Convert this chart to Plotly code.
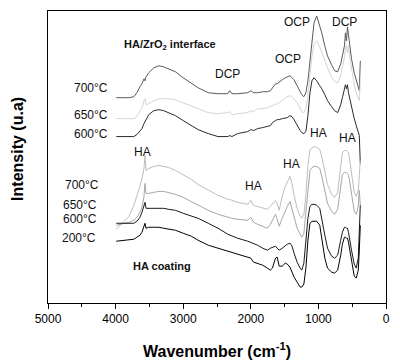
import plotly.graph_objects as go

# Wavenumber grid (cm-1)
wavenumber = [3990, 3800, 3730, 3685, 3640, 3610, 3580, 3565, 3550, 3510,
              3435, 3360, 3290, 3215, 3115, 3000, 2880, 2780, 2630, 2485,
              2340, 2310, 2280, 2195, 2045, 2000, 1960, 1900, 1825, 1755,
              1710, 1680, 1650, 1635, 1610, 1580, 1535, 1490, 1460, 1420,
              1390, 1360, 1315, 1270, 1245, 1215, 1185, 1155, 1125, 1095,
              1065, 1025, 980, 950, 905, 865, 805, 760, 715, 670,
              645, 615, 600, 585, 570, 555, 540, 510, 470, 440,
              410, 395, 380]

# HA/ZrO2 interface spectra (arbitrary units, stacked)
iface_700 = [206, 206, 207, 211, 217, 220, 225, 223, 227, 231,
             236, 238, 237, 235, 232, 226, 221, 216, 211, 210,
             210, 213, 210, 210, 211, 213, 211, 211, 212, 212,
             213, 216, 219, 220, 220, 222, 224, 226, 227, 228,
             226, 224, 218, 212, 209, 207, 211, 223, 245, 265,
             281, 288, 279, 271, 258, 248, 239, 233, 232, 240,
             248, 258, 271, 263, 277, 268, 258, 245, 231, 223,
             216, 213, 243]
iface_650 = [185, 185, 185, 187, 192, 196, 203, 205, 199, 200,
             203, 205, 205, 205, 204, 201, 198, 195, 191, 190,
             191, 192, 189, 190, 191, 193, 192, 195, 195, 196,
             197, 198, 199, 199, 200, 201, 203, 206, 207, 208,
             207, 205, 201, 195, 192, 191, 195, 208, 228, 248,
             260, 263, 257, 251, 243, 236, 227, 222, 221, 228,
             237, 246, 255, 259, 251, 258, 248, 235, 219, 211,
             205, 203, 223]
iface_600 = [167, 167, 167, 169, 172, 175, 180, 182, 185, 189,
             193, 194, 193, 191, 188, 183, 178, 174, 170, 167,
             167, 168, 167, 170, 172, 174, 173, 175, 176, 177,
             178, 181, 183, 183, 184, 184, 185, 186, 186, 188,
             187, 184, 178, 173, 171, 170, 172, 188, 211, 223,
             226, 223, 218, 215, 209, 203, 197, 193, 191, 199,
             206, 213, 219, 215, 219, 211, 206, 198, 185, 178,
             172, 168, 140]

# HA coating spectra
coat_700 = [74, 87, 98, 107, 117, 125, 135, 148, 133, 135,
            137, 138, 137, 136, 133, 129, 124, 119, 113, 108,
            104, 104, 103, 101, 99, 103, 98, 97, 95, 94,
            97, 100, 102, 103, 100, 93, 107, 117, 122, 127,
            120, 108, 95, 87, 85, 89, 108, 138, 154, 156,
            157, 156, 154, 147, 133, 119, 109, 106, 111, 138,
            151, 153, 153, 153, 152, 151, 145, 128, 111, 107,
            113, 128, 143]
coat_650 = [78, 81, 83, 86, 91, 96, 107, 120, 110, 110,
            111, 112, 112, 111, 109, 106, 102, 98, 93, 89,
            86, 86, 85, 84, 83, 86, 81, 79, 77, 75,
            79, 83, 87, 89, 84, 77, 85, 93, 97, 102,
            95, 86, 75, 69, 66, 70, 91, 117, 133, 136,
            137, 137, 135, 127, 113, 100, 92, 89, 94, 117,
            129, 131, 131, 131, 130, 128, 123, 108, 92, 89,
            97, 113, 98]
coat_600 = [80, 80, 80, 82, 86, 91, 97, 101, 95, 95,
            95, 95, 95, 94, 93, 90, 87, 85, 80, 75,
            69, 68, 67, 65, 62, 61, 60, 58, 55, 53,
            55, 56, 57, 57, 55, 53, 55, 58, 59, 60,
            57, 50, 41, 35, 33, 40, 61, 85, 97, 99,
            99, 98, 95, 83, 68, 55, 47, 45, 48, 63,
            71, 76, 76, 75, 75, 71, 66, 53, 39, 35,
            45, 68, 98]
coat_200 = [62, 63, 64, 66, 68, 71, 77, 80, 75, 76,
            76, 76, 75, 74, 73, 70, 67, 63, 58, 55,
            52, 51, 51, 49, 46, 45, 41, 40, 38, 35,
            33, 35, 41, 45, 46, 37, 37, 40, 39, 36,
            31, 26, 21, 16, 16, 19, 35, 63, 80, 82,
            82, 82, 78, 63, 45, 35, 31, 30, 33, 48,
            59, 66, 66, 65, 65, 61, 55, 41, 27, 25,
            33, 53, 78]

x_ticks = [5000, 4000, 3000, 2000, 1000, 0]
x_minor = [4500, 3500, 2500, 1500, 500]

series = [
    (iface_700, '#5a5a5a'),
    (iface_650, '#d4d4d4'),
    (iface_600, '#2a2a2a'),
    (coat_700, '#bdbdbd'),
    (coat_650, '#a6a6a6'),
    (coat_600, '#1a1a1a'),
    (coat_200, '#000000'),
]

fig = go.Figure()
for ys, col in series:
    assert len(ys) == len(wavenumber)
    fig.add_trace(go.Scatter(x=wavenumber, y=ys, mode='lines',
                             line=dict(color=col, width=1),
                             showlegend=False, hoverinfo='skip'))

FONT = 'Liberation Sans, Arial, sans-serif'
L, R, T, B = 48, 10, 10, 58
W, H = 400, 361
PW, PH = W - L - R, H - T - B


def paper(px, py):
    return (px - L) / PW, (H - B - py) / PH


def label(px, py, text, size=12, anchor='center', bold=False):
    x, y = paper(px, py)
    if bold:
        text = '<b>' + text + '</b>'
    fig.add_annotation(x=x, y=y, xref='paper', yref='paper', text=text,
                       showarrow=False, xanchor=anchor, yanchor='middle',
                       font=dict(family=FONT, size=size, color='#111111'))


label(123, 44, 'HA/ZrO<sub>2</sub> interface', size=11, anchor='left', bold=True)
label(111, 87, '700°C', anchor='right')
label(111, 114, '650°C', anchor='right')
label(111, 133, '600°C', anchor='right')
label(230, 73, 'DCP')
label(291, 58, 'OCP')
label(300, 21, 'OCP')
label(348, 21, 'DCP')
label(322, 132, 'HA')
label(351, 137, 'HA')
label(144, 151, 'HA')
label(294, 164, 'HA')
label(256, 186, 'HA')
label(102, 185, '700°C', anchor='right')
label(100, 205, '650°C', anchor='right')
label(100, 219, '600°C', anchor='right')
label(99, 238, '200°C', anchor='right')
label(132, 266, 'HA coating', size=11, anchor='left', bold=True)

# axis titles
x, y = paper(219, 350)
fig.add_annotation(x=x, y=y, xref='paper', yref='paper',
                   text='<b>Wavenumber (cm<sup>-1</sup>)</b>', showarrow=False,
                   xanchor='center', yanchor='middle',
                   font=dict(family=FONT, size=16, color='black'))
x, y = paper(17, 148)
fig.add_annotation(x=x, y=y, xref='paper', yref='paper',
                   text='<b>Intensity (u.a)</b>', showarrow=False, textangle=-90,
                   xanchor='center', yanchor='middle',
                   font=dict(family=FONT, size=16, color='black'))

fig.update_layout(width=W, height=H, margin=dict(l=L, r=R, t=T, b=B),
                  paper_bgcolor='white', plot_bgcolor='white', showlegend=False)
fig.update_xaxes(range=[5000, 0], tickvals=x_ticks,
                 ticktext=[str(v) for v in x_ticks],
                 ticks='outside', ticklen=5, tickwidth=1, tickcolor='black',
                 showline=True, linecolor='black', linewidth=1, mirror=True,
                 showgrid=False, zeroline=False,
                 tickfont=dict(family=FONT, size=12, color='black'),
                 minor=dict(tickvals=x_minor, ticks='outside', ticklen=3,
                            tickcolor='black', showgrid=False))
fig.update_yaxes(range=[0, 293], showticklabels=False, ticks='',
                 showline=True, linecolor='black', linewidth=1, mirror=True,
                 showgrid=False, zeroline=False)

fig.write_html('out.html', config={'displayModeBar': False},
               post_script="document.body.style.margin='0';"
                           "document.body.style.overflow='hidden';")
